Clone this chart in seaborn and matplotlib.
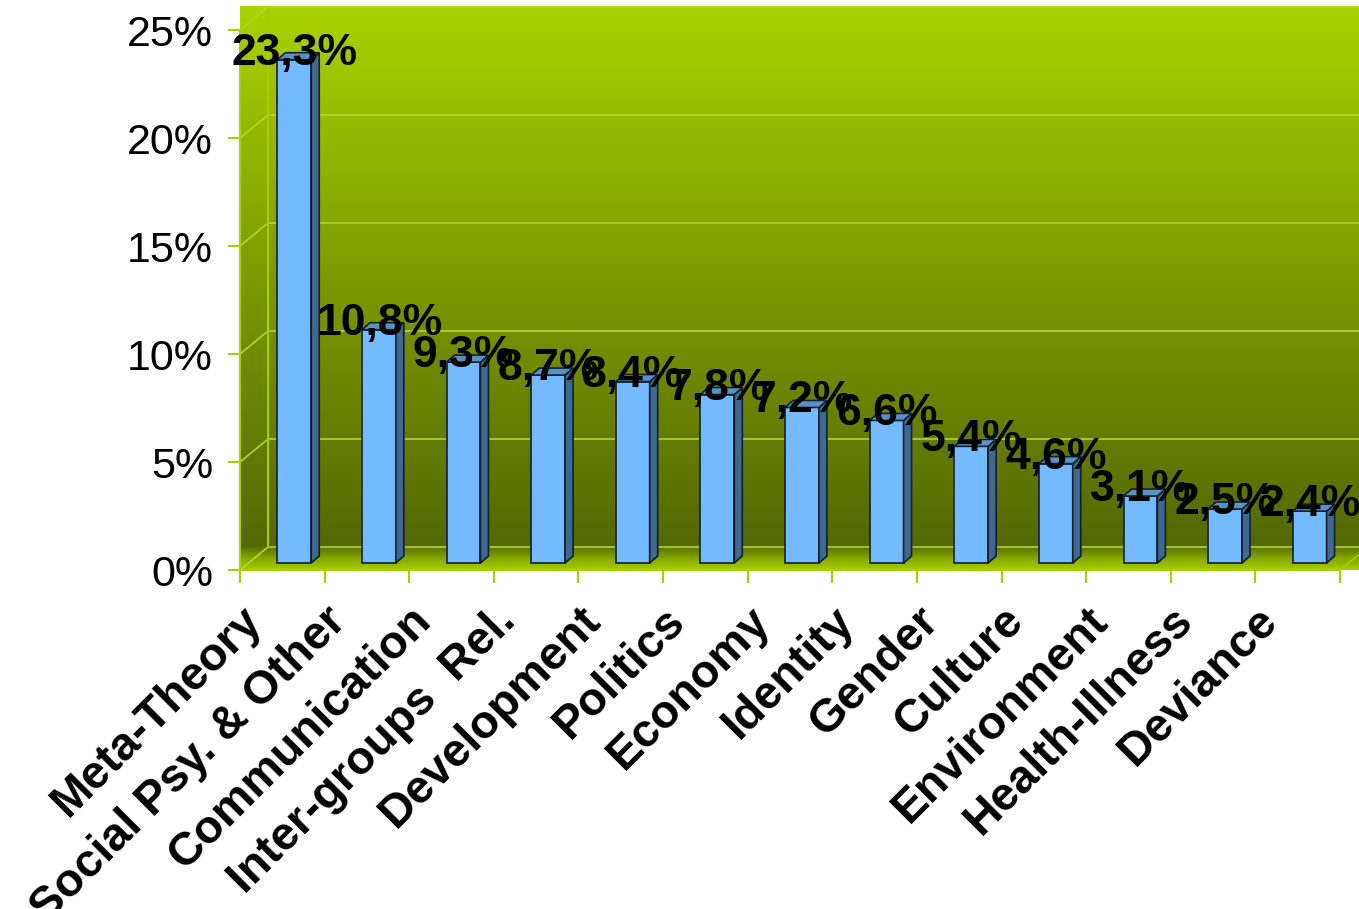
import numpy as np
import pandas as pd
import seaborn as sns
import matplotlib
matplotlib.use("Agg")
import matplotlib.pyplot as plt
from matplotlib.colors import LinearSegmentedColormap
from matplotlib.patches import Polygon
from matplotlib.transforms import offset_copy, ScaledTranslation

# values
categories = ["Meta-Theory", "Social Psy. & Other", "Communication", "Inter-groups  Rel.",
              "Development", "Politics", "Economy", "Identity", "Gender", "Culture",
              "Environment", "Health-Illness", "Deviance"]
shares = [23.3, 10.8, 9.3, 8.7, 8.4, 7.8, 7.2, 6.6, 5.4, 4.6, 3.1, 2.5, 2.4]
value_labels = ["23,3%", "10,8%", "9,3%", "8,7%", "8,4%", "7,8%", "7,2%", "6,6%",
                "5,4%", "4,6%", "3,1%", "2,5%", "2,4%"]
y_ticks = [0, 5, 10, 15, 20, 25]
y_tick_labels = ["0%", "5%", "10%", "15%", "20%", "25%"]

df = pd.DataFrame({"topic": categories, "share": shares})

sns.set_theme(style="white")
plt.rcParams["font.family"] = ["Liberation Sans", "DejaVu Sans"]

W, H = 1359, 909
fig = plt.figure(figsize=(W / 100, H / 100), dpi=100, facecolor="white")
# axes = front plane of the fake 3d box
ax = fig.add_axes([240 / W, (H - 570) / H, 1100 / W, 540 / H])

# bars (front faces) through seaborn
sns.barplot(data=df, x="topic", y="share", order=categories, color="#75b9ff",
            saturation=1, width=0.4, edgecolor="#14202c", linewidth=1.2, ax=ax, zorder=3)
bars = list(ax.patches)
ax.set_xlim(-0.5, len(categories) - 0.5)
ax.set_ylim(0, 25)

# depth offsets in pixels
BACK = (28, 23)
BAR = (12, 7)
BAR_BACK = (20, 14)


def shift(x, y, d):
    p = ax.transData.transform((x, y)) + np.asarray(d, dtype=float)
    return ax.transData.inverted().transform(p)


x_left, x_right = -0.5, len(categories) - 0.5
far_right = x_right + 1.0
back_top = shift(x_left, 25, BACK)[1]
back_floor = shift(x_left, 0, BACK)[1]

# back + left wall gradient
wall_cmap = LinearSegmentedColormap.from_list("wall", ["#506404", "#7b9800", "#aad300"])
grad = np.linspace(0, 1, 256).reshape(-1, 1)
wall = ax.imshow(grad, cmap=wall_cmap, origin="lower", aspect="auto",
                 extent=(x_left, far_right, 0, back_top), zorder=0, clip_on=False)
wall_clip = Polygon([(x_left, 0), (x_left, 25), shift(x_left, 25, BACK), (far_right, back_top),
                     (far_right, back_floor), shift(x_right, 0, BACK), (x_right, 0)],
                    closed=True, transform=ax.transData)
wall.set_clip_path(wall_clip)

# floor gradient
floor_cmap = LinearSegmentedColormap.from_list("floor", ["#a6cd00", "#86a800", "#5a7000"])
floor = ax.imshow(grad, cmap=floor_cmap, origin="lower", aspect="auto",
                  extent=(x_left, far_right, 0, back_floor), zorder=1, clip_on=False)
floor_clip = Polygon([(x_left, 0), (x_right, 0), shift(x_right, 0, BACK), shift(x_left, 0, BACK)],
                     closed=True, transform=ax.transData)
floor.set_clip_path(floor_clip)
ax.set_xlim(x_left, x_right)
ax.set_ylim(0, 25)

# gridlines on the left and back walls
for t in y_ticks:
    a = shift(x_left, t, BACK)
    ax.plot([x_left, a[0], far_right], [t, a[1], a[1]], color="#b2d52a", lw=1.2,
            zorder=1.5, clip_on=False)
# box edges
b0 = shift(x_left, 0, BACK)
b1 = shift(x_left, 25, BACK)
ax.plot([b0[0], b1[0]], [b0[1], b1[1]], color="#a6cf00", lw=1.5, zorder=1.6, clip_on=False)
ax.plot([x_left, x_left], [0, 25], color="#a6cf00", lw=1.5, zorder=1.6, clip_on=False)
ax.plot([x_left, x_right], [0, 0], color="#a6cf00", lw=1.5, zorder=1.6, clip_on=False)
r0 = shift(x_right, 0, BACK)
ax.plot([x_right, r0[0]], [0, r0[1]], color="#a6cf00", lw=1.2, zorder=1.6, clip_on=False)

# 3d faces of bars + value labels
bar_tr = offset_copy(ax.transData, fig=fig, x=BAR[0], y=BAR[1], units="dots")
lab_tr = offset_copy(ax.transData, fig=fig, x=BAR[0], y=BAR[1] - 5, units="dots")
for p, lab in zip(bars, value_labels):
    p.set_transform(bar_tr)
    x0, w, h = p.get_x(), p.get_width(), p.get_height()
    x1 = x0 + w
    side = [shift(x1, 0, BAR), shift(x1, h, BAR), shift(x1, h, BAR_BACK), shift(x1, 0, BAR_BACK)]
    top = [shift(x0, h, BAR), shift(x1, h, BAR), shift(x1, h, BAR_BACK), shift(x0, h, BAR_BACK)]
    ax.add_patch(Polygon(side, closed=True, fc="#3e6890", ec="#14202c", lw=1.2, zorder=3))
    ax.add_patch(Polygon(top, closed=True, fc="#5a92c8", ec="#14202c", lw=1.2, zorder=3))
    ax.text(x0 + w / 2, h, lab, transform=lab_tr, ha="center", va="baseline",
            fontsize=32, fontweight="bold", color="black", zorder=6, clip_on=False)

for s in ax.spines.values():
    s.set_visible(False)
ax.set_xlabel("")
ax.set_ylabel("")

ax.set_yticks(y_ticks, y_tick_labels)
ax.tick_params(axis="y", length=12 * 0.72, width=1.5, color="#a6cf00", pad=15 * 0.72,
               labelsize=31, labelcolor="black", left=True)

ax.set_xticks(range(len(categories)), categories)
ax.set_xticks(np.arange(-0.5, len(categories)), minor=True)
ax.tick_params(axis="x", which="major", length=0, pad=0, bottom=True)
ax.tick_params(axis="x", which="minor", length=13 * 0.72, width=1.5, color="#a6cf00", bottom=True)
lab_shift = ScaledTranslation(-27 / 100, -44 / 100, fig.dpi_scale_trans)
for t in ax.get_xticklabels():
    t.set_rotation(45)
    t.set_ha("right")
    t.set_va("center")
    t.set_rotation_mode("anchor")
    t.set_fontsize(33.5)
    t.set_fontweight("bold")
    t.set_color("black")
    t.set_transform(t.get_transform() + lab_shift)

fig.savefig("out.png", dpi=100, facecolor="white")
